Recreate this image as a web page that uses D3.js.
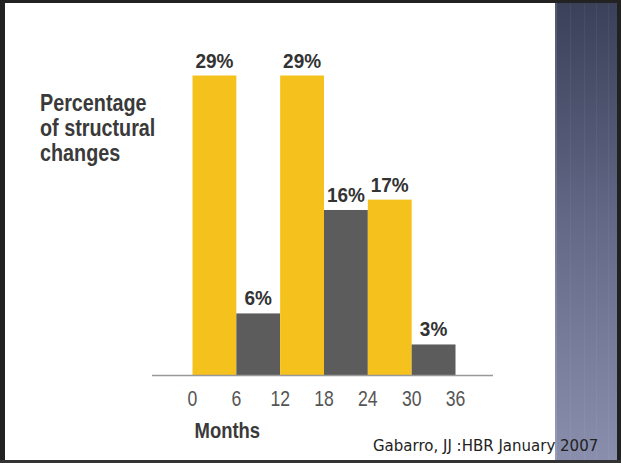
<!DOCTYPE html>
<html>
<head>
<meta charset="utf-8">
<script src="https://cdn.jsdelivr.net/npm/d3@7"></script>
<style>
	html, body { margin: 0; padding: 0; background: #fff; }
	svg { display: block; }
</style>
</head>
<body>
<div id="root"></div>
<script>
const starts	= [0, 6, 12, 18, 24, 30];
const values	= [29, 6, 29, 16, 17, 3];
const tones		= ['yellow', 'gray', 'yellow', 'gray', 'yellow', 'gray'];
const ticks		= [0, 6, 12, 18, 24, 30, 36];
const step		= 6;

const title		= ['Percentage', 'of structural', 'changes'];
const x_title	= 'Months';
const source	= 'Gabarro, JJ :HBR January 2007';

const palette	= { yellow: '#f5c11c', gray: '#5c5c5c' };
// no condensed face installed, so squeeze Liberation Sans horizontally
const face		= '"Liberation Sans", Arial, sans-serif';

const W = 621, H = 463;

const svg = d3.select('#root').append('svg')
	.attr('width', W)
	.attr('height', H);

// background + side strip
let defs = svg.append('defs');
let grad = defs.append('linearGradient')
	.attr('id', 'strip')
	.attr('x1', 0).attr('y1', 0).attr('x2', 0).attr('y2', 1);
grad.append('stop').attr('offset', '0%').attr('stop-color', '#3a4058');
grad.append('stop').attr('offset', '50%').attr('stop-color', '#646a88');
grad.append('stop').attr('offset', '100%').attr('stop-color', '#8a8fae');

svg.append('rect').attr('width', W).attr('height', H).attr('fill', '#fff');
svg.append('rect')
	.attr('x', 555).attr('y', 0)
	.attr('width', W - 555).attr('height', H)
	.attr('fill', 'url(#strip)');
svg.append('rect')
	.attr('x', 555).attr('y', 0).attr('width', 2).attr('height', H)
	.attr('fill', '#fff').attr('opacity', 0.12);
[570, 584, 596, 608].forEach((d) => {
	svg.append('rect')
		.attr('x', d).attr('y', 0).attr('width', 1).attr('height', H)
		.attr('fill', '#fff').attr('opacity', 0.05);
});

// frame
svg.append('rect').attr('x', 0).attr('y', 0).attr('width', W).attr('height', 3).attr('fill', '#222');
svg.append('rect').attr('x', 0).attr('y', 0).attr('width', 5).attr('height', H).attr('fill', '#222');
svg.append('rect').attr('x', W - 4).attr('y', 0).attr('width', 4).attr('height', H).attr('fill', '#222');
svg.append('rect').attr('x', 0).attr('y', H - 3).attr('width', W).attr('height', 3).attr('fill', '#333');

// scales
let x = d3.scaleLinear().domain([0, 36]).range([192.5, 455.5]);
let y = d3.scaleLinear().domain([0, 29]).range([375.5, 75.5]);

let chart = svg.append('g').attr('id', 'chart');

chart.selectAll('.bar')
	.data(starts).enter().append('rect')
	.attr('class', 'bar')
	.attr('x', (d) => x(d))
	.attr('width', (d) => x(d + step) - x(d))
	.attr('y', (d, i) => y(values[i]))
	.attr('height', (d, i) => y(0) - y(values[i]))
	.attr('fill', (d, i) => palette[tones[i]]);

chart.selectAll('.value')
	.data(starts).enter().append('text')
	.attr('class', 'value')
	.attr('transform', (d, i) => 'translate(' + x(d + step / 2) + ',' + (y(values[i]) - 8) + ') scale(0.95,1)')
	.attr('text-anchor', 'middle')
	.style('font-family', face)
	.style('font-weight', 'bold')
	.style('font-size', '20px')
	.attr('fill', '#333')
	.text((d, i) => values[i] + '%');

// axis line
chart.append('line')
	.attr('x1', 152).attr('x2', 493)
	.attr('y1', y(0)).attr('y2', y(0))
	.attr('stroke', '#999')
	.attr('stroke-width', 1.5);

chart.selectAll('.tick')
	.data(ticks).enter().append('text')
	.attr('class', 'tick')
	.attr('transform', (d) => 'translate(' + x(d) + ',406) scale(0.8,1)')
	.attr('text-anchor', 'middle')
	.style('font-family', face)
	.style('font-size', '22px')
	.attr('fill', '#555')
	.text((d) => d);

chart.append('text')
	.attr('transform', 'translate(' + (x(0) + 2) + ',438) scale(0.84,1)')
	.style('font-family', face)
	.style('font-weight', 'bold')
	.style('font-size', '22px')
	.attr('fill', '#3a3a3a')
	.text(x_title);

// y title
let ttl = svg.append('g').attr('transform', 'translate(40,0)');
ttl.selectAll('text')
	.data(title).enter().append('text')
	.attr('transform', (d, i) => 'translate(0,' + (111 + i * 25) + ') scale(0.86,1)')
	.style('font-family', face)
	.style('font-weight', 'bold')
	.style('font-size', '23px')
	.attr('fill', '#3a3a3a')
	.text((d) => d);

// source
svg.append('text')
	.attr('x', 373).attr('y', 451)
	.style('font-family', '"DejaVu Sans", sans-serif')
	.style('font-size', '15px')
	.attr('fill', '#222')
	.text(source);
</script>
</body>
</html>
